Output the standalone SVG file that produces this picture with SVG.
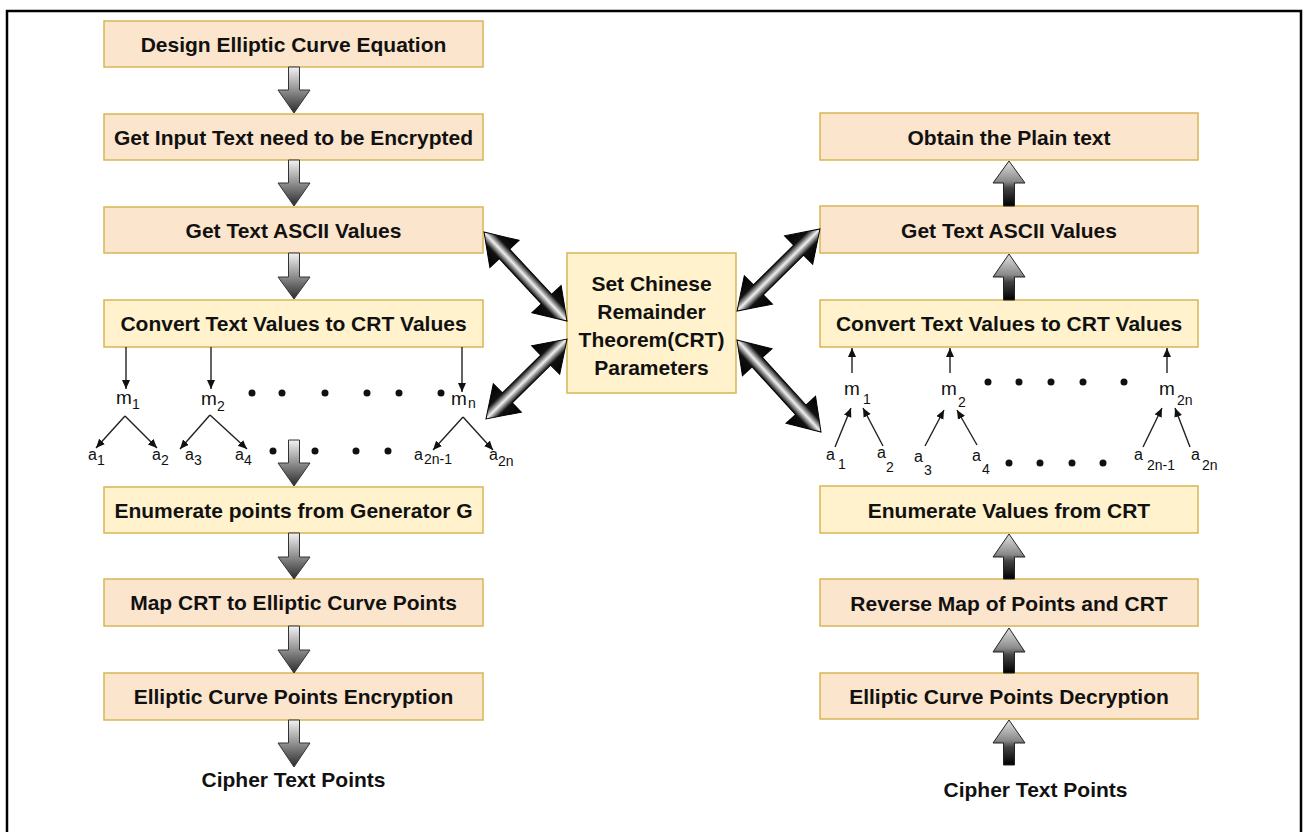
<svg xmlns="http://www.w3.org/2000/svg" width="1309" height="832" viewBox="0 0 1309 832">
<style>
  .box{stroke:#D6B656;stroke-width:1.5}
  .peach{fill:#FCE5CD}
  .yel{fill:#FFF2CC}
  .lbl{font-family:"Liberation Sans",Arial,sans-serif;font-weight:bold;font-size:21px;fill:#111;text-anchor:middle}
  .m{font-family:"Liberation Sans",Arial,sans-serif;font-size:19px;fill:#111}
  .a{font-family:"Liberation Sans",Arial,sans-serif;font-size:16px;fill:#111}
  .s{font-family:"Liberation Sans",Arial,sans-serif;font-size:14px;fill:#111}
  .thin{stroke:#222;stroke-width:1.4;fill:none;marker-end:url(#ah)}
  .down{fill:url(#gDown);stroke:#333;stroke-width:1}
  .up{fill:url(#gUp);stroke:#222;stroke-width:1}
  .dbl{fill:url(#gDbl);stroke:#000;stroke-width:1}
  .dot{fill:#111}
</style>
<defs>
  <marker id="ah" markerWidth="10" markerHeight="9" refX="9" refY="4" orient="auto" markerUnits="userSpaceOnUse">
    <path d="M0,0 L9,4 L0,8 z" fill="#111"/>
  </marker>
  <linearGradient id="gDown" x1="0" y1="0" x2="0" y2="1">
    <stop offset="0" stop-color="#f2f2f2"/>
    <stop offset="0.45" stop-color="#9a9a9a"/>
    <stop offset="1" stop-color="#2b2b2b"/>
  </linearGradient>
  <linearGradient id="gUp" x1="0" y1="0" x2="0" y2="1">
    <stop offset="0" stop-color="#e0e0e0"/>
    <stop offset="0.45" stop-color="#8a8a8a"/>
    <stop offset="0.6" stop-color="#444"/>
    <stop offset="1" stop-color="#000"/>
  </linearGradient>
  <linearGradient id="gDbl" x1="0" y1="0" x2="0" y2="1">
    <stop offset="0" stop-color="#000"/>
    <stop offset="0.33" stop-color="#111"/>
    <stop offset="0.5" stop-color="#f0f0f0"/>
    <stop offset="0.67" stop-color="#111"/>
    <stop offset="1" stop-color="#000"/>
  </linearGradient>
</defs>

<rect x="7" y="11" width="1294" height="840" fill="#fff" stroke="#000" stroke-width="2.5"/>

<!-- Left column nodes -->
<g id="design"><rect class="box peach" x="104" y="21" width="379" height="46"/><text class="lbl" x="293.5" y="52">Design Elliptic Curve Equation</text></g>
<g id="input"><rect class="box peach" x="104" y="114" width="379" height="46"/><text class="lbl" x="293.5" y="145">Get Input Text need to be Encrypted</text></g>
<g id="ascii-left"><rect class="box peach" x="104" y="207" width="379" height="46"/><text class="lbl" x="293.5" y="238">Get Text ASCII Values</text></g>
<g id="convert-left"><rect class="box yel" x="104" y="300" width="379" height="47"/><text class="lbl" x="293.5" y="331">Convert Text Values to CRT Values</text></g>
<g id="enum-left"><rect class="box yel" x="104" y="487" width="379" height="46"/><text class="lbl" x="293.5" y="518">Enumerate points from Generator G</text></g>
<g id="map"><rect class="box peach" x="104" y="579" width="379" height="47"/><text class="lbl" x="293.5" y="610">Map CRT to Elliptic Curve Points</text></g>
<g id="encrypt"><rect class="box peach" x="104" y="673" width="379" height="47"/><text class="lbl" x="293.5" y="704">Elliptic Curve Points Encryption</text></g>
<g id="cipher-left"><text class="lbl" x="293.5" y="787">Cipher Text Points</text></g>

<!-- Center node -->
<g id="crt">
  <rect class="box yel" x="567" y="253" width="169" height="140"/>
  <text class="lbl" x="651.5" y="291">Set Chinese</text>
  <text class="lbl" x="651.5" y="319">Remainder</text>
  <text class="lbl" x="651.5" y="347">Theorem(CRT)</text>
  <text class="lbl" x="651.5" y="375">Parameters</text>
</g>

<!-- Right column nodes -->
<g id="plain"><rect class="box peach" x="820" y="113" width="378" height="47"/><text class="lbl" x="1009" y="145">Obtain the Plain text</text></g>
<g id="ascii-right"><rect class="box peach" x="820" y="206" width="378" height="47"/><text class="lbl" x="1009" y="238">Get Text ASCII Values</text></g>
<g id="convert-right"><rect class="box yel" x="820" y="300" width="378" height="47"/><text class="lbl" x="1009" y="331">Convert Text Values to CRT Values</text></g>
<g id="enum-right"><rect class="box yel" x="820" y="486" width="378" height="47"/><text class="lbl" x="1009" y="518">Enumerate Values from CRT</text></g>
<g id="reverse"><rect class="box peach" x="820" y="579" width="378" height="47"/><text class="lbl" x="1009" y="611">Reverse Map of Points and CRT</text></g>
<g id="decrypt"><rect class="box peach" x="820" y="673" width="378" height="46"/><text class="lbl" x="1009" y="704">Elliptic Curve Points Decryption</text></g>
<g id="cipher-right"><text class="lbl" x="1035.5" y="797">Cipher Text Points</text></g>

<!-- Left tree labels -->
<g id="tree-left">
  <text class="m" x="116" y="404">m</text><text class="s" x="132" y="409">1</text>
  <text class="m" x="201" y="405">m</text><text class="s" x="217" y="411">2</text>
  <text class="m" x="451" y="405">m</text><text class="s" x="468" y="408">n</text>
  <text class="a" x="88" y="460">a</text><text class="s" x="97" y="465">1</text>
  <text class="a" x="152" y="460">a</text><text class="s" x="161" y="465">2</text>
  <text class="a" x="185" y="460">a</text><text class="s" x="194" y="465">3</text>
  <text class="a" x="235" y="460">a</text><text class="s" x="244" y="465">4</text>
  <text class="a" x="414" y="460">a</text><text class="s" x="424" y="464">2n-1</text>
  <text class="a" x="489" y="460">a</text><text class="s" x="498" y="466">2n</text>
  <circle class="dot" cx="252" cy="393" r="3.5"/><circle class="dot" cx="282" cy="393" r="3.5"/><circle class="dot" cx="325" cy="393" r="3.5"/><circle class="dot" cx="367" cy="393" r="3.5"/><circle class="dot" cx="399" cy="393" r="3.5"/><circle class="dot" cx="441" cy="393" r="3.5"/>
  <circle class="dot" cx="273" cy="451" r="3.5"/><circle class="dot" cx="315" cy="451" r="3.5"/><circle class="dot" cx="356" cy="451" r="3.5"/><circle class="dot" cx="388" cy="451" r="3.5"/>
</g>

<!-- Right tree labels -->
<g id="tree-right">
  <text class="m" x="844" y="395">m</text><text class="s" x="863" y="404">1</text>
  <text class="m" x="941" y="395">m</text><text class="s" x="958" y="407">2</text>
  <text class="m" x="1159" y="395">m</text><text class="s" x="1177" y="405">2n</text>
  <text class="a" x="826" y="460">a</text><text class="s" x="838" y="469">1</text>
  <text class="a" x="877" y="458">a</text><text class="s" x="886" y="472">2</text>
  <text class="a" x="914" y="462">a</text><text class="s" x="924" y="475">3</text>
  <text class="a" x="972" y="461">a</text><text class="s" x="982" y="474">4</text>
  <text class="a" x="1134" y="460">a</text><text class="s" x="1147" y="470">2n-1</text>
  <text class="a" x="1191" y="460">a</text><text class="s" x="1202" y="470">2n</text>
  <circle class="dot" cx="988" cy="382" r="3.5"/><circle class="dot" cx="1019" cy="382" r="3.5"/><circle class="dot" cx="1051" cy="382" r="3.5"/><circle class="dot" cx="1083" cy="382" r="3.5"/><circle class="dot" cx="1124" cy="382" r="3.5"/>
  <circle class="dot" cx="1009" cy="463" r="3.5"/><circle class="dot" cx="1040" cy="463" r="3.5"/><circle class="dot" cx="1072" cy="463" r="3.5"/><circle class="dot" cx="1103" cy="463" r="3.5"/>
</g>

<!-- Connectors -->
<g id="connectors">
  <!-- left block arrows (down) -->
  <path class="down" d="M288.5,67 H299.5 V90 H310 L294,113 L278,90 H288.5 Z"/>
  <path class="down" d="M288.5,160 H299.5 V183 H310 L294,206 L278,183 H288.5 Z"/>
  <path class="down" d="M288.5,253 H299.5 V277 H310 L294,299 L278,277 H288.5 Z"/>
  <path class="down" d="M288.5,440 H299.5 V463 H310 L294,486 L278,463 H288.5 Z"/>
  <path class="down" d="M288.5,533 H299.5 V557 H310 L294,579 L278,557 H288.5 Z"/>
  <path class="down" d="M288.5,626 H299.5 V650 H310 L294,673 L278,650 H288.5 Z"/>
  <path class="down" d="M288.5,720 H299.5 V743 H310 L294,767 L278,743 H288.5 Z"/>
  <!-- right block arrows (up) -->
  <path class="up" d="M1003.5,206 H1014.5 V183 H1025 L1009,161 L993,183 H1003.5 Z"/>
  <path class="up" d="M1003.5,300 H1014.5 V277 H1025 L1009,254 L993,277 H1003.5 Z"/>
  <path class="up" d="M1003.5,579 H1014.5 V557 H1025 L1009,534 L993,557 H1003.5 Z"/>
  <path class="up" d="M1003.5,673 H1014.5 V652 H1025 L1009,628 L993,652 H1003.5 Z"/>
  <path class="up" d="M1003.5,765 H1014.5 V743 H1025 L1009,720 L993,743 H1003.5 Z"/>
  <!-- double arrows -->
  <path class="dbl" transform="translate(525.5,276.5) rotate(47)" d="M-60.8,0 L-30.8,-20 L-30.8,-7 L30.8,-7 L30.8,-20 L60.8,0 L30.8,20 L30.8,7 L-30.8,7 L-30.8,20 Z"/>
  <path class="dbl" transform="translate(526.5,379) rotate(-44.6)" d="M-56.9,0 L-26.9,-20 L-26.9,-7 L26.9,-7 L26.9,-20 L56.9,0 L26.9,20 L26.9,7 L-26.9,7 L-26.9,20 Z"/>
  <path class="dbl" transform="translate(778.5,270) rotate(-44.7)" d="M-58.3,0 L-28.3,-20 L-28.3,-7 L28.3,-7 L28.3,-20 L58.3,0 L28.3,20 L28.3,7 L-28.3,7 L-28.3,20 Z"/>
  <path class="dbl" transform="translate(779,386) rotate(47.6)" d="M-62.3,0 L-32.3,-20 L-32.3,-7 L32.3,-7 L32.3,-20 L62.3,0 L32.3,20 L32.3,7 L-32.3,7 L-32.3,20 Z"/>
  <!-- left thin arrows -->
  <line class="thin" x1="126" y1="347" x2="126" y2="389"/>
  <line class="thin" x1="211" y1="347" x2="211" y2="389"/>
  <line class="thin" x1="462" y1="347" x2="462" y2="392"/>
  <line class="thin" x1="125" y1="416" x2="96" y2="448"/>
  <line class="thin" x1="125" y1="416" x2="157" y2="448"/>
  <line class="thin" x1="210" y1="415" x2="180" y2="449"/>
  <line class="thin" x1="210" y1="415" x2="247" y2="449"/>
  <line class="thin" x1="463" y1="417" x2="433" y2="450"/>
  <line class="thin" x1="463" y1="417" x2="493" y2="450"/>
  <!-- right thin arrows -->
  <line class="thin" x1="852" y1="373" x2="852" y2="348"/>
  <line class="thin" x1="950" y1="373" x2="950" y2="348"/>
  <line class="thin" x1="1167" y1="373" x2="1167" y2="348"/>
  <line class="thin" x1="835" y1="447" x2="851" y2="408"/>
  <line class="thin" x1="883" y1="446" x2="863" y2="408"/>
  <line class="thin" x1="925" y1="446" x2="944" y2="410"/>
  <line class="thin" x1="977" y1="445" x2="957" y2="410"/>
  <line class="thin" x1="1143" y1="447" x2="1162" y2="408"/>
  <line class="thin" x1="1190" y1="447" x2="1175" y2="408"/>
</g>
</svg>
